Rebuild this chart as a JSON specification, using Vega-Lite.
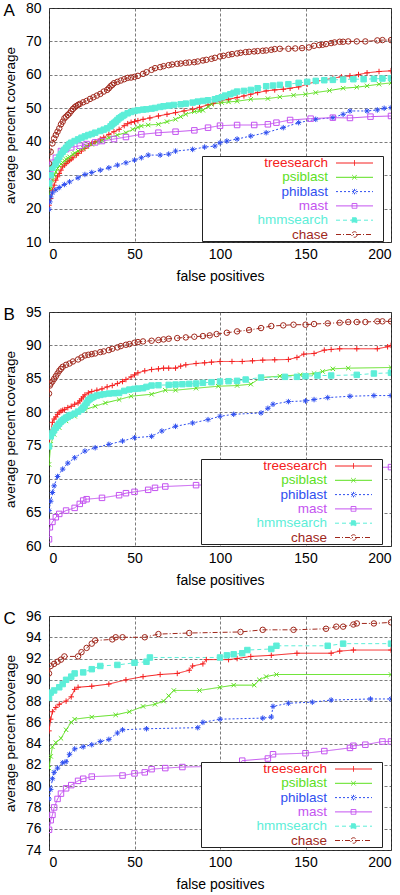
{
"$schema": "https://vega.github.io/schema/vega-lite/v6.json",
"background": "white",
"padding": {"left": 2, "top": 0, "right": 0, "bottom": 0},
"config": {
  "font": "Liberation Sans",
  "view": {"stroke": "#222", "strokeWidth": 1},
  "axis": {"labelFont": "Liberation Sans", "labelFontSize": 14, "labelColor": "black", "titleFont": "Liberation Sans", "titleFontSize": 14, "titleFontWeight": "normal", "titleColor": "black", "ticks": false, "domain": false, "gridColor": "#444", "gridDash": [3, 2], "gridWidth": 0.7, "gridOpacity": 1},
  "axisX": {"labelPadding": 5, "titlePadding": 8},
  "axisY": {"labelPadding": 8, "titlePadding": 8, "titleFontSize": 13.5},
  "title": {"font": "Liberation Sans", "fontSize": 17, "fontWeight": "normal", "anchor": "start", "frame": "bounds", "color": "black", "offset": -19},
  "concat": {"spacing": 20}
},
"datasets": {
"A": [
{"s":"treesearch","x":0,"y":21},{"s":"treesearch","x":1,"y":23},{"s":"treesearch","x":2,"y":25.5},{"s":"treesearch","x":4,"y":28.5},{"s":"treesearch","x":6,"y":30.5},{"s":"treesearch","x":8,"y":32.5},{"s":"treesearch","x":11,"y":34},{"s":"treesearch","x":14,"y":35.2},{"s":"treesearch","x":19,"y":37.2},{"s":"treesearch","x":25,"y":39.5},{"s":"treesearch","x":30,"y":40.8},{"s":"treesearch","x":35,"y":42.2},{"s":"treesearch","x":41,"y":43.7},{"s":"treesearch","x":46,"y":45.4},{"s":"treesearch","x":50,"y":46},{"s":"treesearch","x":55,"y":46.7},{"s":"treesearch","x":64,"y":47.7},{"s":"treesearch","x":74,"y":48.7},{"s":"treesearch","x":84,"y":49.7},{"s":"treesearch","x":93,"y":51},{"s":"treesearch","x":100,"y":52.2},{"s":"treesearch","x":110,"y":53.2},{"s":"treesearch","x":118,"y":54.2},{"s":"treesearch","x":127,"y":55.2},{"s":"treesearch","x":137,"y":55.7},{"s":"treesearch","x":146,"y":56.4},{"s":"treesearch","x":156,"y":58},{"s":"treesearch","x":166,"y":59},{"s":"treesearch","x":176,"y":59.7},{"s":"treesearch","x":186,"y":60.6},{"s":"treesearch","x":200,"y":61.2},
{"s":"treesearch","x":3,"y":27},{"s":"treesearch","x":5,"y":29.5},{"s":"treesearch","x":7,"y":31.5},{"s":"treesearch","x":9,"y":33},{"s":"treesearch","x":10,"y":33.5},{"s":"treesearch","x":12,"y":34.4},{"s":"treesearch","x":13,"y":34.8},{"s":"treesearch","x":16,"y":36},{"s":"treesearch","x":17,"y":36.5},{"s":"treesearch","x":21,"y":38},{"s":"treesearch","x":23,"y":38.8},{"s":"treesearch","x":27,"y":40},{"s":"treesearch","x":32,"y":41.3},{"s":"treesearch","x":38,"y":43},{"s":"treesearch","x":44,"y":44.8},{"s":"treesearch","x":48,"y":45.8},{"s":"treesearch","x":52,"y":46.3},{"s":"treesearch","x":59,"y":47.1},{"s":"treesearch","x":69,"y":48.2},{"s":"treesearch","x":79,"y":49.2},{"s":"treesearch","x":88,"y":50.3},{"s":"treesearch","x":96,"y":51.5},{"s":"treesearch","x":105,"y":52.7},{"s":"treesearch","x":114,"y":53.7},{"s":"treesearch","x":122,"y":54.7},{"s":"treesearch","x":132,"y":55.5},{"s":"treesearch","x":141,"y":56},{"s":"treesearch","x":151,"y":57.2},{"s":"treesearch","x":161,"y":58.5},{"s":"treesearch","x":171,"y":59.4},{"s":"treesearch","x":181,"y":60.1},{"s":"treesearch","x":193,"y":61},
{"s":"psiblast","x":0,"y":23.3},{"s":"psiblast","x":1,"y":26},{"s":"psiblast","x":2,"y":28.5},{"s":"psiblast","x":4,"y":31},{"s":"psiblast","x":6,"y":32.8},{"s":"psiblast","x":9,"y":34.3},{"s":"psiblast","x":12,"y":35.5},{"s":"psiblast","x":17,"y":37.2},{"s":"psiblast","x":25,"y":39.2},{"s":"psiblast","x":35,"y":41.2},{"s":"psiblast","x":45,"y":42.7},{"s":"psiblast","x":49,"y":43.7},{"s":"psiblast","x":54,"y":44.7},{"s":"psiblast","x":64,"y":45.2},{"s":"psiblast","x":74,"y":46.7},{"s":"psiblast","x":80,"y":48.2},{"s":"psiblast","x":85,"y":49},{"s":"psiblast","x":90,"y":49.4},{"s":"psiblast","x":95,"y":51.2},{"s":"psiblast","x":101,"y":51.7},{"s":"psiblast","x":110,"y":52.1},{"s":"psiblast","x":118,"y":52.7},{"s":"psiblast","x":128,"y":52.9},{"s":"psiblast","x":135,"y":53.4},{"s":"psiblast","x":143,"y":53.9},{"s":"psiblast","x":150,"y":54.2},{"s":"psiblast","x":156,"y":54.7},{"s":"psiblast","x":164,"y":55.3},{"s":"psiblast","x":172,"y":56},{"s":"psiblast","x":180,"y":56.3},{"s":"psiblast","x":186,"y":56.7},{"s":"psiblast","x":193,"y":57.2},{"s":"psiblast","x":200,"y":57.6},
{"s":"psiblast","x":3,"y":30},{"s":"psiblast","x":5,"y":32},{"s":"psiblast","x":7,"y":33.3},{"s":"psiblast","x":8,"y":33.8},{"s":"psiblast","x":10,"y":34.7},{"s":"psiblast","x":11,"y":35.1},{"s":"psiblast","x":14,"y":36.2},{"s":"psiblast","x":15,"y":36.6},{"s":"psiblast","x":20,"y":38},{"s":"psiblast","x":22,"y":38.6},{"s":"psiblast","x":28,"y":39.8},{"s":"psiblast","x":31,"y":40.4},{"s":"psiblast","x":40,"y":42},{"s":"psiblast","x":52,"y":44.3},{"s":"psiblast","x":58,"y":45},{"s":"psiblast","x":69,"y":46},{"s":"psiblast","x":77,"y":47.5},{"s":"psiblast","x":88,"y":49.2},{"s":"psiblast","x":93,"y":50.5},{"s":"psiblast","x":105,"y":51.9},
{"s":"phiblast","x":0,"y":19.8},{"s":"phiblast","x":0.5,"y":22},{"s":"phiblast","x":1,"y":23.5},{"s":"phiblast","x":2,"y":24.7},{"s":"phiblast","x":4,"y":25.6},{"s":"phiblast","x":6,"y":26.3},{"s":"phiblast","x":9,"y":27.2},{"s":"phiblast","x":12,"y":28},{"s":"phiblast","x":17,"y":29.2},{"s":"phiblast","x":21,"y":30.2},{"s":"phiblast","x":25,"y":30.8},{"s":"phiblast","x":30,"y":31.5},{"s":"phiblast","x":35,"y":32.2},{"s":"phiblast","x":40,"y":33},{"s":"phiblast","x":45,"y":33.7},{"s":"phiblast","x":50,"y":34.5},{"s":"phiblast","x":54,"y":35.2},{"s":"phiblast","x":58,"y":36},{"s":"phiblast","x":65,"y":36},{"s":"phiblast","x":70,"y":36.3},{"s":"phiblast","x":74,"y":37.2},{"s":"phiblast","x":84,"y":37.7},{"s":"phiblast","x":91,"y":38.4},{"s":"phiblast","x":97,"y":38.7},{"s":"phiblast","x":100,"y":39.7},{"s":"phiblast","x":104,"y":40.2},{"s":"phiblast","x":110,"y":40.8},{"s":"phiblast","x":118,"y":41.7},{"s":"phiblast","x":127,"y":42.7},{"s":"phiblast","x":137,"y":44.2},{"s":"phiblast","x":146,"y":45.7},{"s":"phiblast","x":156,"y":46.7},{"s":"phiblast","x":166,"y":47.2},{"s":"phiblast","x":172,"y":48.2},{"s":"phiblast","x":176,"y":49.2},{"s":"phiblast","x":186,"y":49.2},{"s":"phiblast","x":192,"y":49.5},{"s":"phiblast","x":196,"y":50},{"s":"phiblast","x":200,"y":50.2},
{"s":"mast","x":0,"y":27.7},{"s":"mast","x":0.5,"y":30},{"s":"mast","x":1,"y":32},{"s":"mast","x":2,"y":33.7},{"s":"mast","x":4,"y":35.2},{"s":"mast","x":7,"y":37.2},{"s":"mast","x":10,"y":37.8},{"s":"mast","x":13,"y":38.3},{"s":"mast","x":18,"y":38.8},{"s":"mast","x":22,"y":39.3},{"s":"mast","x":27,"y":39.8},{"s":"mast","x":31,"y":40.2},{"s":"mast","x":38,"y":40.8},{"s":"mast","x":45,"y":41.4},{"s":"mast","x":54,"y":42.2},{"s":"mast","x":64,"y":42.7},{"s":"mast","x":74,"y":43},{"s":"mast","x":85,"y":43.4},{"s":"mast","x":93,"y":44.2},{"s":"mast","x":100,"y":44.8},{"s":"mast","x":110,"y":45},{"s":"mast","x":120,"y":45},{"s":"mast","x":128,"y":45.2},{"s":"mast","x":133,"y":45.7},{"s":"mast","x":141,"y":46.5},{"s":"mast","x":153,"y":46.9},{"s":"mast","x":166,"y":47.2},{"s":"mast","x":176,"y":47.1},{"s":"mast","x":188,"y":47.5},{"s":"mast","x":200,"y":47.7},
{"s":"hmmsearch","x":0,"y":27.5},{"s":"hmmsearch","x":1,"y":30},{"s":"hmmsearch","x":2,"y":32.2},{"s":"hmmsearch","x":4,"y":33.5},{"s":"hmmsearch","x":6,"y":35.5},{"s":"hmmsearch","x":8,"y":37},{"s":"hmmsearch","x":10,"y":38.2},{"s":"hmmsearch","x":13,"y":39.7},{"s":"hmmsearch","x":17,"y":40.7},{"s":"hmmsearch","x":21,"y":41.6},{"s":"hmmsearch","x":25,"y":42.3},{"s":"hmmsearch","x":30,"y":43.2},{"s":"hmmsearch","x":34,"y":44},{"s":"hmmsearch","x":37,"y":45.2},{"s":"hmmsearch","x":40,"y":46.5},{"s":"hmmsearch","x":43,"y":47.7},{"s":"hmmsearch","x":46,"y":48.5},{"s":"hmmsearch","x":50,"y":49.2},{"s":"hmmsearch","x":55,"y":49.6},{"s":"hmmsearch","x":60,"y":49.9},{"s":"hmmsearch","x":65,"y":50.4},{"s":"hmmsearch","x":70,"y":50.8},{"s":"hmmsearch","x":77,"y":51.2},{"s":"hmmsearch","x":84,"y":51.7},{"s":"hmmsearch","x":90,"y":52.2},{"s":"hmmsearch","x":97,"y":52.7},{"s":"hmmsearch","x":101,"y":53.3},{"s":"hmmsearch","x":106,"y":54.2},{"s":"hmmsearch","x":110,"y":55},{"s":"hmmsearch","x":118,"y":55.5},{"s":"hmmsearch","x":127,"y":56.6},{"s":"hmmsearch","x":135,"y":57},{"s":"hmmsearch","x":146,"y":57.6},{"s":"hmmsearch","x":156,"y":58.2},{"s":"hmmsearch","x":166,"y":58.5},{"s":"hmmsearch","x":178,"y":58.7},{"s":"hmmsearch","x":190,"y":58.8},{"s":"hmmsearch","x":200,"y":59},
{"s":"hmmsearch","x":3,"y":33},{"s":"hmmsearch","x":5,"y":34.5},{"s":"hmmsearch","x":7,"y":36.3},{"s":"hmmsearch","x":9,"y":37.6},{"s":"hmmsearch","x":11,"y":38.8},{"s":"hmmsearch","x":12,"y":39.3},{"s":"hmmsearch","x":15,"y":40.2},{"s":"hmmsearch","x":19,"y":41.2},{"s":"hmmsearch","x":23,"y":42},{"s":"hmmsearch","x":27,"y":42.7},{"s":"hmmsearch","x":32,"y":43.6},{"s":"hmmsearch","x":36,"y":44.6},{"s":"hmmsearch","x":38,"y":45.6},{"s":"hmmsearch","x":39,"y":46},{"s":"hmmsearch","x":41,"y":47},{"s":"hmmsearch","x":42,"y":47.3},{"s":"hmmsearch","x":44,"y":48},{"s":"hmmsearch","x":48,"y":48.9},{"s":"hmmsearch","x":52,"y":49.4},{"s":"hmmsearch","x":57,"y":49.7},{"s":"hmmsearch","x":62,"y":50.1},{"s":"hmmsearch","x":67,"y":50.6},{"s":"hmmsearch","x":73,"y":51},{"s":"hmmsearch","x":80,"y":51.4},{"s":"hmmsearch","x":87,"y":52},{"s":"hmmsearch","x":93,"y":52.4},{"s":"hmmsearch","x":99,"y":53},{"s":"hmmsearch","x":103,"y":53.8},{"s":"hmmsearch","x":108,"y":54.6},{"s":"hmmsearch","x":114,"y":55.2},{"s":"hmmsearch","x":122,"y":56},{"s":"hmmsearch","x":131,"y":56.8},{"s":"hmmsearch","x":140,"y":57.2},{"s":"hmmsearch","x":151,"y":57.9},{"s":"hmmsearch","x":161,"y":58.4},{"s":"hmmsearch","x":172,"y":58.6},{"s":"hmmsearch","x":184,"y":58.7},{"s":"hmmsearch","x":195,"y":58.9},
{"s":"chase","x":0,"y":33.5},{"s":"chase","x":1,"y":37},{"s":"chase","x":2,"y":39.5},{"s":"chase","x":4,"y":42},{"s":"chase","x":6,"y":44},{"s":"chase","x":9,"y":47},{"s":"chase","x":12,"y":48.5},{"s":"chase","x":15,"y":50.3},{"s":"chase","x":18,"y":51.3},{"s":"chase","x":22,"y":52.2},{"s":"chase","x":26,"y":53.3},{"s":"chase","x":30,"y":54.3},{"s":"chase","x":35,"y":56},{"s":"chase","x":38,"y":57.5},{"s":"chase","x":42,"y":58.3},{"s":"chase","x":46,"y":59.1},{"s":"chase","x":50,"y":59.4},{"s":"chase","x":55,"y":60.3},{"s":"chase","x":60,"y":61.5},{"s":"chase","x":65,"y":62.3},{"s":"chase","x":70,"y":62.9},{"s":"chase","x":75,"y":63.3},{"s":"chase","x":80,"y":63.6},{"s":"chase","x":85,"y":63.8},{"s":"chase","x":90,"y":64.3},{"s":"chase","x":95,"y":64.8},{"s":"chase","x":100,"y":65.5},{"s":"chase","x":105,"y":66},{"s":"chase","x":110,"y":66.4},{"s":"chase","x":115,"y":66.8},{"s":"chase","x":120,"y":67},{"s":"chase","x":125,"y":67.2},{"s":"chase","x":130,"y":67.5},{"s":"chase","x":135,"y":67.8},{"s":"chase","x":140,"y":67.8},{"s":"chase","x":148,"y":68},{"s":"chase","x":152,"y":68.2},{"s":"chase","x":155,"y":68.7},{"s":"chase","x":160,"y":69},{"s":"chase","x":165,"y":69.5},{"s":"chase","x":170,"y":69.9},{"s":"chase","x":175,"y":70},{"s":"chase","x":185,"y":70},{"s":"chase","x":192,"y":70.3},{"s":"chase","x":200,"y":70.4},
{"s":"chase","x":3,"y":41},{"s":"chase","x":5,"y":43},{"s":"chase","x":7,"y":45.2},{"s":"chase","x":8,"y":46},{"s":"chase","x":10,"y":47.5},{"s":"chase","x":11,"y":48},{"s":"chase","x":13,"y":49.2},{"s":"chase","x":14,"y":49.8},{"s":"chase","x":16,"y":50.7},{"s":"chase","x":17,"y":51},{"s":"chase","x":20,"y":51.8},{"s":"chase","x":24,"y":52.8},{"s":"chase","x":28,"y":53.8},{"s":"chase","x":32,"y":55},{"s":"chase","x":34,"y":55.5},{"s":"chase","x":36,"y":56.6},{"s":"chase","x":37,"y":57},{"s":"chase","x":40,"y":57.9},{"s":"chase","x":44,"y":58.7},{"s":"chase","x":48,"y":59.2},{"s":"chase","x":52,"y":59.7},{"s":"chase","x":57,"y":60.8},{"s":"chase","x":62,"y":62},{"s":"chase","x":67,"y":62.6},{"s":"chase","x":72,"y":63.1},{"s":"chase","x":77,"y":63.4},{"s":"chase","x":82,"y":63.7},{"s":"chase","x":87,"y":64},{"s":"chase","x":92,"y":64.5},{"s":"chase","x":97,"y":65.1},{"s":"chase","x":102,"y":65.7},{"s":"chase","x":107,"y":66.2},{"s":"chase","x":112,"y":66.6},{"s":"chase","x":117,"y":66.9},{"s":"chase","x":122,"y":67.1},{"s":"chase","x":127,"y":67.3},{"s":"chase","x":132,"y":67.7},{"s":"chase","x":144,"y":67.9},{"s":"chase","x":158,"y":68.9},{"s":"chase","x":162,"y":69.2},{"s":"chase","x":167,"y":69.7},{"s":"chase","x":172,"y":69.9},{"s":"chase","x":180,"y":70},{"s":"chase","x":195,"y":70.4}
],
"B": [
{"s":"treesearch","x":0,"y":75},{"s":"treesearch","x":1,"y":77},{"s":"treesearch","x":2,"y":78.5},{"s":"treesearch","x":4,"y":79.3},{"s":"treesearch","x":6,"y":80},{"s":"treesearch","x":9,"y":80.4},{"s":"treesearch","x":13,"y":80.9},{"s":"treesearch","x":17,"y":81.4},{"s":"treesearch","x":19,"y":82},{"s":"treesearch","x":21,"y":82.6},{"s":"treesearch","x":25,"y":83.1},{"s":"treesearch","x":31,"y":83.5},{"s":"treesearch","x":37,"y":84},{"s":"treesearch","x":43,"y":84.6},{"s":"treesearch","x":48,"y":85.3},{"s":"treesearch","x":52,"y":85.9},{"s":"treesearch","x":60,"y":86.4},{"s":"treesearch","x":67,"y":86.6},{"s":"treesearch","x":74,"y":86.6},{"s":"treesearch","x":80,"y":87.1},{"s":"treesearch","x":91,"y":87.4},{"s":"treesearch","x":100,"y":87.6},{"s":"treesearch","x":113,"y":87.6},{"s":"treesearch","x":125,"y":87.8},{"s":"treesearch","x":140,"y":87.9},{"s":"treesearch","x":145,"y":88.2},{"s":"treesearch","x":149,"y":88.7},{"s":"treesearch","x":155,"y":88.8},{"s":"treesearch","x":161,"y":89.3},{"s":"treesearch","x":170,"y":89.5},{"s":"treesearch","x":192,"y":89.5},{"s":"treesearch","x":198,"y":89.8},{"s":"treesearch","x":200,"y":90},
{"s":"treesearch","x":3,"y":79},{"s":"treesearch","x":5,"y":79.7},{"s":"treesearch","x":7,"y":80.2},{"s":"treesearch","x":8,"y":80.3},{"s":"treesearch","x":11,"y":80.7},{"s":"treesearch","x":15,"y":81.2},{"s":"treesearch","x":18,"y":81.7},{"s":"treesearch","x":20,"y":82.3},{"s":"treesearch","x":23,"y":82.9},{"s":"treesearch","x":28,"y":83.3},{"s":"treesearch","x":34,"y":83.8},{"s":"treesearch","x":40,"y":84.3},{"s":"treesearch","x":45,"y":84.9},{"s":"treesearch","x":50,"y":85.6},{"s":"treesearch","x":56,"y":86.2},{"s":"treesearch","x":64,"y":86.5},{"s":"treesearch","x":70,"y":86.6},{"s":"treesearch","x":77,"y":86.9},{"s":"treesearch","x":86,"y":87.3},{"s":"treesearch","x":95,"y":87.5},{"s":"treesearch","x":107,"y":87.6},{"s":"treesearch","x":119,"y":87.7},{"s":"treesearch","x":132,"y":87.85},{"s":"treesearch","x":165,"y":89.4},{"s":"treesearch","x":180,"y":89.5},
{"s":"psiblast","x":0,"y":72.2},{"s":"psiblast","x":1,"y":75.2},{"s":"psiblast","x":3,"y":76.7},{"s":"psiblast","x":6,"y":77.7},{"s":"psiblast","x":10,"y":78.7},{"s":"psiblast","x":15,"y":79.4},{"s":"psiblast","x":21,"y":80.4},{"s":"psiblast","x":27,"y":80.9},{"s":"psiblast","x":33,"y":81.4},{"s":"psiblast","x":41,"y":81.9},{"s":"psiblast","x":48,"y":82.4},{"s":"psiblast","x":60,"y":82.7},{"s":"psiblast","x":68,"y":83.3},{"s":"psiblast","x":74,"y":83.3},{"s":"psiblast","x":86,"y":83.6},{"s":"psiblast","x":99,"y":83.9},{"s":"psiblast","x":110,"y":84},{"s":"psiblast","x":118,"y":84.2},{"s":"psiblast","x":124,"y":85.2},{"s":"psiblast","x":135,"y":85.4},{"s":"psiblast","x":147,"y":85.6},{"s":"psiblast","x":155,"y":85.8},{"s":"psiblast","x":160,"y":86.1},{"s":"psiblast","x":166,"y":86.5},{"s":"psiblast","x":175,"y":86.6},{"s":"psiblast","x":200,"y":86.7},
{"s":"phiblast","x":0,"y":65.3},{"s":"phiblast","x":1,"y":66.7},{"s":"phiblast","x":2,"y":68},{"s":"phiblast","x":3,"y":69},{"s":"phiblast","x":5,"y":70.4},{"s":"phiblast","x":8,"y":71.5},{"s":"phiblast","x":11,"y":72.4},{"s":"phiblast","x":15,"y":73.2},{"s":"phiblast","x":21,"y":74.2},{"s":"phiblast","x":27,"y":74.7},{"s":"phiblast","x":35,"y":75.2},{"s":"phiblast","x":43,"y":75.7},{"s":"phiblast","x":50,"y":76.2},{"s":"phiblast","x":60,"y":76.4},{"s":"phiblast","x":66,"y":77.2},{"s":"phiblast","x":74,"y":77.9},{"s":"phiblast","x":84,"y":78.4},{"s":"phiblast","x":93,"y":78.9},{"s":"phiblast","x":100,"y":79.4},{"s":"phiblast","x":108,"y":79.7},{"s":"phiblast","x":124,"y":79.9},{"s":"phiblast","x":128,"y":80.6},{"s":"phiblast","x":131,"y":81.2},{"s":"phiblast","x":140,"y":81.6},{"s":"phiblast","x":150,"y":81.7},{"s":"phiblast","x":155,"y":81.9},{"s":"phiblast","x":163,"y":82.2},{"s":"phiblast","x":176,"y":82.4},{"s":"phiblast","x":190,"y":82.5},{"s":"phiblast","x":200,"y":82.5},
{"s":"mast","x":0,"y":61},{"s":"mast","x":0.5,"y":62.8},{"s":"mast","x":2,"y":63.6},{"s":"mast","x":4,"y":64.3},{"s":"mast","x":6,"y":64.8},{"s":"mast","x":10,"y":65.3},{"s":"mast","x":15,"y":65.7},{"s":"mast","x":18,"y":66.3},{"s":"mast","x":20,"y":66.8},{"s":"mast","x":22,"y":67},{"s":"mast","x":31,"y":67.2},{"s":"mast","x":41,"y":67.6},{"s":"mast","x":45,"y":67.9},{"s":"mast","x":50,"y":68.1},{"s":"mast","x":58,"y":68.4},{"s":"mast","x":62,"y":68.7},{"s":"mast","x":68,"y":68.9},{"s":"mast","x":86,"y":69.1},{"s":"mast","x":100,"y":69.2},{"s":"mast","x":108,"y":69.3},{"s":"mast","x":112,"y":69.7},{"s":"mast","x":122,"y":70},{"s":"mast","x":128,"y":70.3},{"s":"mast","x":133,"y":70.6},{"s":"mast","x":138,"y":70.8},{"s":"mast","x":150,"y":71},{"s":"mast","x":160,"y":71},{"s":"mast","x":165,"y":71.1},{"s":"mast","x":172,"y":71.3},{"s":"mast","x":177,"y":71.5},{"s":"mast","x":185,"y":71.7},{"s":"mast","x":200,"y":71.8},
{"s":"hmmsearch","x":0,"y":74.9},{"s":"hmmsearch","x":1,"y":76.4},{"s":"hmmsearch","x":3,"y":77.3},{"s":"hmmsearch","x":5,"y":78},{"s":"hmmsearch","x":8,"y":78.8},{"s":"hmmsearch","x":11,"y":79.3},{"s":"hmmsearch","x":15,"y":79.8},{"s":"hmmsearch","x":19,"y":80.4},{"s":"hmmsearch","x":21,"y":81},{"s":"hmmsearch","x":23,"y":81.8},{"s":"hmmsearch","x":26,"y":82.3},{"s":"hmmsearch","x":30,"y":82.6},{"s":"hmmsearch","x":35,"y":82.8},{"s":"hmmsearch","x":41,"y":82.9},{"s":"hmmsearch","x":47,"y":83.4},{"s":"hmmsearch","x":55,"y":83.6},{"s":"hmmsearch","x":60,"y":84},{"s":"hmmsearch","x":70,"y":84.1},{"s":"hmmsearch","x":78,"y":84.2},{"s":"hmmsearch","x":86,"y":84.3},{"s":"hmmsearch","x":95,"y":84.5},{"s":"hmmsearch","x":100,"y":84.6},{"s":"hmmsearch","x":110,"y":84.7},{"s":"hmmsearch","x":115,"y":84.9},{"s":"hmmsearch","x":124,"y":85.2},{"s":"hmmsearch","x":138,"y":85.3},{"s":"hmmsearch","x":145,"y":85.3},{"s":"hmmsearch","x":150,"y":85.4},{"s":"hmmsearch","x":157,"y":85.5},{"s":"hmmsearch","x":165,"y":85.5},{"s":"hmmsearch","x":180,"y":85.6},{"s":"hmmsearch","x":190,"y":85.8},{"s":"hmmsearch","x":200,"y":85.9},
{"s":"hmmsearch","x":2,"y":76.9},{"s":"hmmsearch","x":4,"y":77.7},{"s":"hmmsearch","x":6,"y":78.3},{"s":"hmmsearch","x":7,"y":78.6},{"s":"hmmsearch","x":9,"y":79},{"s":"hmmsearch","x":10,"y":79.2},{"s":"hmmsearch","x":12,"y":79.5},{"s":"hmmsearch","x":13,"y":79.6},{"s":"hmmsearch","x":17,"y":80.1},{"s":"hmmsearch","x":20,"y":80.7},{"s":"hmmsearch","x":22,"y":81.4},{"s":"hmmsearch","x":24,"y":82},{"s":"hmmsearch","x":25,"y":82.2},{"s":"hmmsearch","x":28,"y":82.5},{"s":"hmmsearch","x":32,"y":82.7},{"s":"hmmsearch","x":38,"y":82.85},{"s":"hmmsearch","x":44,"y":83.2},{"s":"hmmsearch","x":50,"y":83.5},{"s":"hmmsearch","x":52,"y":83.55},{"s":"hmmsearch","x":57,"y":83.8},{"s":"hmmsearch","x":64,"y":84.05},{"s":"hmmsearch","x":74,"y":84.15},{"s":"hmmsearch","x":82,"y":84.25},{"s":"hmmsearch","x":90,"y":84.4},{"s":"hmmsearch","x":105,"y":84.65},
{"s":"chase","x":0,"y":82.8},{"s":"chase","x":0.5,"y":84},{"s":"chase","x":2,"y":84.6},{"s":"chase","x":4,"y":85.4},{"s":"chase","x":6,"y":86.2},{"s":"chase","x":8,"y":86.8},{"s":"chase","x":12,"y":87.3},{"s":"chase","x":17,"y":87.9},{"s":"chase","x":21,"y":88.5},{"s":"chase","x":25,"y":88.7},{"s":"chase","x":30,"y":89},{"s":"chase","x":35,"y":89.3},{"s":"chase","x":40,"y":89.7},{"s":"chase","x":45,"y":90.1},{"s":"chase","x":50,"y":90.4},{"s":"chase","x":55,"y":90.6},{"s":"chase","x":64,"y":90.8},{"s":"chase","x":70,"y":91},{"s":"chase","x":80,"y":91.2},{"s":"chase","x":90,"y":91.4},{"s":"chase","x":98,"y":91.7},{"s":"chase","x":110,"y":92.1},{"s":"chase","x":124,"y":92.6},{"s":"chase","x":130,"y":92.9},{"s":"chase","x":143,"y":93.1},{"s":"chase","x":155,"y":93.2},{"s":"chase","x":163,"y":93.3},{"s":"chase","x":175,"y":93.5},{"s":"chase","x":185,"y":93.5},{"s":"chase","x":192,"y":93.6},{"s":"chase","x":200,"y":93.6},
{"s":"chase","x":1,"y":84.3},{"s":"chase","x":3,"y":85},{"s":"chase","x":5,"y":85.8},{"s":"chase","x":7,"y":86.5},{"s":"chase","x":10,"y":87.1},{"s":"chase","x":14,"y":87.6},{"s":"chase","x":19,"y":88.2},{"s":"chase","x":23,"y":88.6},{"s":"chase","x":27,"y":88.8},{"s":"chase","x":32,"y":89.1},{"s":"chase","x":37,"y":89.5},{"s":"chase","x":42,"y":89.9},{"s":"chase","x":47,"y":90.2},{"s":"chase","x":52,"y":90.5},{"s":"chase","x":60,"y":90.7},{"s":"chase","x":67,"y":90.9},{"s":"chase","x":75,"y":91.1},{"s":"chase","x":85,"y":91.3},{"s":"chase","x":94,"y":91.5},{"s":"chase","x":104,"y":91.9},{"s":"chase","x":117,"y":92.3},{"s":"chase","x":137,"y":93},{"s":"chase","x":150,"y":93.1},{"s":"chase","x":170,"y":93.4},{"s":"chase","x":180,"y":93.5},{"s":"chase","x":195,"y":93.6}
],
"C": [
{"s":"treesearch","x":0,"y":85.2},{"s":"treesearch","x":1,"y":86.3},{"s":"treesearch","x":2,"y":87},{"s":"treesearch","x":4,"y":87.4},{"s":"treesearch","x":6,"y":87.7},{"s":"treesearch","x":10,"y":88},{"s":"treesearch","x":13,"y":88.4},{"s":"treesearch","x":15,"y":89.1},{"s":"treesearch","x":17,"y":89.3},{"s":"treesearch","x":25,"y":89.4},{"s":"treesearch","x":35,"y":89.6},{"s":"treesearch","x":45,"y":90},{"s":"treesearch","x":55,"y":90.3},{"s":"treesearch","x":65,"y":90.5},{"s":"treesearch","x":75,"y":90.6},{"s":"treesearch","x":82,"y":90.9},{"s":"treesearch","x":84,"y":91.3},{"s":"treesearch","x":90,"y":91.5},{"s":"treesearch","x":92,"y":91.9},{"s":"treesearch","x":105,"y":91.9},{"s":"treesearch","x":110,"y":92},{"s":"treesearch","x":118,"y":92.2},{"s":"treesearch","x":130,"y":92.3},{"s":"treesearch","x":145,"y":92.5},{"s":"treesearch","x":165,"y":92.5},{"s":"treesearch","x":170,"y":92.7},{"s":"treesearch","x":178,"y":92.8},{"s":"treesearch","x":200,"y":92.8},
{"s":"psiblast","x":0,"y":81.7},{"s":"psiblast","x":1,"y":82.8},{"s":"psiblast","x":2,"y":83.7},{"s":"psiblast","x":4,"y":84.1},{"s":"psiblast","x":7,"y":84.5},{"s":"psiblast","x":10,"y":85.3},{"s":"psiblast","x":13,"y":86},{"s":"psiblast","x":15,"y":86.3},{"s":"psiblast","x":25,"y":86.5},{"s":"psiblast","x":39,"y":86.7},{"s":"psiblast","x":47,"y":87},{"s":"psiblast","x":55,"y":87.5},{"s":"psiblast","x":62,"y":87.7},{"s":"psiblast","x":67,"y":88},{"s":"psiblast","x":70,"y":88.5},{"s":"psiblast","x":73,"y":89},{"s":"psiblast","x":88,"y":89},{"s":"psiblast","x":100,"y":89.3},{"s":"psiblast","x":108,"y":89.5},{"s":"psiblast","x":120,"y":89.5},{"s":"psiblast","x":123,"y":90},{"s":"psiblast","x":127,"y":90.3},{"s":"psiblast","x":133,"y":90.5},{"s":"psiblast","x":200,"y":90.5},
{"s":"phiblast","x":0,"y":78.8},{"s":"phiblast","x":1,"y":79.7},{"s":"phiblast","x":2,"y":80.7},{"s":"phiblast","x":3,"y":81.3},{"s":"phiblast","x":5,"y":81.7},{"s":"phiblast","x":8,"y":82.2},{"s":"phiblast","x":10,"y":82.3},{"s":"phiblast","x":12,"y":83},{"s":"phiblast","x":15,"y":83.5},{"s":"phiblast","x":20,"y":83.7},{"s":"phiblast","x":25,"y":83.9},{"s":"phiblast","x":30,"y":84.2},{"s":"phiblast","x":35,"y":84.4},{"s":"phiblast","x":40,"y":85},{"s":"phiblast","x":43,"y":85.3},{"s":"phiblast","x":57,"y":85.4},{"s":"phiblast","x":87,"y":85.5},{"s":"phiblast","x":90,"y":86},{"s":"phiblast","x":100,"y":86.3},{"s":"phiblast","x":125,"y":86.4},{"s":"phiblast","x":130,"y":86.5},{"s":"phiblast","x":131,"y":87.5},{"s":"phiblast","x":140,"y":87.8},{"s":"phiblast","x":154,"y":87.9},{"s":"phiblast","x":165,"y":88.1},{"s":"phiblast","x":188,"y":88.2},{"s":"phiblast","x":200,"y":88.2},
{"s":"mast","x":0,"y":75.9},{"s":"mast","x":1,"y":76.8},{"s":"mast","x":2,"y":77.3},{"s":"mast","x":3,"y":78},{"s":"mast","x":5,"y":78.8},{"s":"mast","x":7,"y":79.3},{"s":"mast","x":10,"y":79.8},{"s":"mast","x":13,"y":80.1},{"s":"mast","x":17,"y":80.5},{"s":"mast","x":20,"y":80.7},{"s":"mast","x":25,"y":80.9},{"s":"mast","x":43,"y":81},{"s":"mast","x":50,"y":81.2},{"s":"mast","x":56,"y":81.3},{"s":"mast","x":60,"y":81.6},{"s":"mast","x":68,"y":81.7},{"s":"mast","x":78,"y":81.8},{"s":"mast","x":110,"y":81.9},{"s":"mast","x":113,"y":82.4},{"s":"mast","x":128,"y":82.6},{"s":"mast","x":131,"y":83},{"s":"mast","x":150,"y":83.1},{"s":"mast","x":161,"y":83.3},{"s":"mast","x":176,"y":83.6},{"s":"mast","x":178,"y":83.8},{"s":"mast","x":185,"y":83.9},{"s":"mast","x":195,"y":84.2},{"s":"mast","x":200,"y":84.2},
{"s":"hmmsearch","x":0,"y":88.3},{"s":"hmmsearch","x":1,"y":88.8},{"s":"hmmsearch","x":3,"y":89},{"s":"hmmsearch","x":6,"y":89.3},{"s":"hmmsearch","x":8,"y":89.6},{"s":"hmmsearch","x":10,"y":90},{"s":"hmmsearch","x":13,"y":90.3},{"s":"hmmsearch","x":15,"y":90.6},{"s":"hmmsearch","x":20,"y":90.7},{"s":"hmmsearch","x":25,"y":91},{"s":"hmmsearch","x":30,"y":91.3},{"s":"hmmsearch","x":40,"y":91.4},{"s":"hmmsearch","x":50,"y":91.6},{"s":"hmmsearch","x":57,"y":91.7},{"s":"hmmsearch","x":59,"y":92.1},{"s":"hmmsearch","x":100,"y":92.1},{"s":"hmmsearch","x":104,"y":92.3},{"s":"hmmsearch","x":108,"y":92.4},{"s":"hmmsearch","x":113,"y":92.5},{"s":"hmmsearch","x":116,"y":92.8},{"s":"hmmsearch","x":130,"y":92.9},{"s":"hmmsearch","x":133,"y":93.2},{"s":"hmmsearch","x":163,"y":93.2},{"s":"hmmsearch","x":172,"y":93.4},{"s":"hmmsearch","x":200,"y":93.4},
{"s":"chase","x":0,"y":90.6},{"s":"chase","x":1,"y":91.3},{"s":"chase","x":3,"y":91.5},{"s":"chase","x":5,"y":91.7},{"s":"chase","x":7,"y":91.9},{"s":"chase","x":9,"y":92.2},{"s":"chase","x":17,"y":92.2},{"s":"chase","x":19,"y":92.6},{"s":"chase","x":22,"y":93},{"s":"chase","x":25,"y":93.4},{"s":"chase","x":27,"y":93.7},{"s":"chase","x":37,"y":93.8},{"s":"chase","x":39,"y":94},{"s":"chase","x":43,"y":94},{"s":"chase","x":56,"y":94},{"s":"chase","x":64,"y":94.3},{"s":"chase","x":82,"y":94.4},{"s":"chase","x":112,"y":94.5},{"s":"chase","x":125,"y":94.7},{"s":"chase","x":143,"y":94.7},{"s":"chase","x":162,"y":94.8},{"s":"chase","x":168,"y":95},{"s":"chase","x":172,"y":95},{"s":"chase","x":178,"y":95.2},{"s":"chase","x":180,"y":95.3},{"s":"chase","x":190,"y":95.3},{"s":"chase","x":200,"y":95.4}
]
},
"resolve": {"legend": {"color": "independent"}},
"vconcat": [
{
 "title": {"text": "A"},
 "width": 342, "height": 234,
 "data": {"name": "A"},
 "encoding": {
  "x": {"field": "x", "type": "quantitative", "scale": {"domain": [0, 200], "nice": false}, "axis": {"values": [0, 50, 100, 150, 200], "title": "false positives"}},
  "y": {"field": "y", "type": "quantitative", "scale": {"domain": [10, 80], "nice": false, "zero": false}, "axis": {"values": [10, 20, 30, 40, 50, 60, 70, 80], "title": "average percent coverage"}},
  "color": {"field": "s", "type": "nominal", "scale": {"domain": ["treesearch", "psiblast", "phiblast", "mast", "hmmsearch", "chase"], "range": ["#f52020", "#5ce01e", "#2f4ff0", "#c453f0", "#5ceed8", "#a0281c"]},
   "legend": {"orient": "none", "legendX": 153, "legendY": 148, "title": null, "padding": 0, "rowPadding": 0.3, "fillColor": "white", "strokeColor": "#222", "labelFontSize": 13.5, "labelFont": "Liberation Sans", "labelLimit": 0, "symbolSize": 100, "symbolStrokeWidth": 1,
    "encode": {
     "symbols": {"update": {"x": {"value": 152.5}, "y": {"value": 7}, "size": {"value": 1369}, "strokeWidth": {"value": 1}, "opacity": {"value": 1},
       "stroke": {"signal": "datum.value === 'treesearch' ? '#f52020' : datum.value === 'psiblast' ? '#5ce01e' : datum.value === 'phiblast' ? '#2f4ff0' : datum.value === 'mast' ? '#c453f0' : datum.value === 'hmmsearch' ? '#5ceed8' : '#a0281c'"},
       "shape": {"signal": "datum.value === 'treesearch' ? 'M-1,0L1,0M0,-0.15L0,0.15M1.43,0' : datum.value === 'psiblast' ? 'M-1,0L1,0M-0.12,-0.12L0.12,0.12M-0.12,0.12L0.12,-0.12M1.43,0' : datum.value === 'phiblast' ? 'M-1,0L1,0M0,-0.15L0,0.15M-0.11,-0.11L0.11,0.11M-0.11,0.11L0.11,-0.11M1.43,0' : datum.value === 'chase' ? 'M-1,0L1,0M0.15,0A0.15,0.15,0,1,1,-0.15,0A0.15,0.15,0,1,1,0.15,0M1.43,0' : 'M-1,0L1,0M-0.13,-0.13L0.13,-0.13L0.13,0.13L-0.13,0.13ZM1.43,0'"},
       "fill": {"signal": "datum.value === 'hmmsearch' ? '#5ceed8' : 'transparent'"},
       "strokeDash": {"signal": "datum.value === 'phiblast' ? [2,2] : datum.value === 'hmmsearch' ? [4,3] : datum.value === 'chase' ? [5,2,1,2] : [1,0]"}}},
     "labels": {"update": {"x": {"value": 126}, "y": {"value": 7}, "align": {"value": "right"}, "baseline": {"value": "middle"},
       "fill": {"signal": "datum.value === 'treesearch' ? '#f52020' : datum.value === 'psiblast' ? '#5ce01e' : datum.value === 'phiblast' ? '#2f4ff0' : datum.value === 'mast' ? '#c453f0' : datum.value === 'hmmsearch' ? '#5ceed8' : '#a0281c'"}}}
    }}}
 },
 "layer": [
  {"mark": {"type": "line", "strokeWidth": 1, "clip": true}, "encoding": {"strokeDash": {"field": "s", "type": "nominal", "scale": {"domain": ["treesearch", "psiblast", "phiblast", "mast", "hmmsearch", "chase"], "range": [[1, 0], [1, 0], [2, 2], [1, 0], [4, 3], [5, 2, 1, 2]]}, "legend": null}}},
  {"mark": {"type": "point", "filled": false, "size": 30, "strokeWidth": 1, "opacity": 1, "clip": true}, "encoding": {
    "shape": {"field": "s", "type": "nominal", "scale": {"domain": ["treesearch", "psiblast", "phiblast", "mast", "hmmsearch", "chase"], "range": ["M-1,0L1,0M0,-1L0,1", "M-0.8,-0.8L0.8,0.8M-0.8,0.8L0.8,-0.8", "M-1,0L1,0M0,-1L0,1M-0.7,-0.7L0.7,0.7M-0.7,0.7L0.7,-0.7", "square", "square", "circle"]}, "legend": null},
    "fill": {"field": "s", "type": "nominal", "scale": {"domain": ["treesearch", "psiblast", "phiblast", "mast", "hmmsearch", "chase"], "range": ["transparent", "transparent", "transparent", "transparent", "#5ceed8", "transparent"]}, "legend": null}}}
 ]
},
{
 "title": {"text": "B"},
 "width": 342, "height": 234,
 "data": {"name": "B"},
 "encoding": {
  "x": {"field": "x", "type": "quantitative", "scale": {"domain": [0, 200], "nice": false}, "axis": {"values": [0, 50, 100, 150, 200], "title": "false positives"}},
  "y": {"field": "y", "type": "quantitative", "scale": {"domain": [60, 95], "nice": false, "zero": false}, "axis": {"values": [60, 65, 70, 75, 80, 85, 90, 95], "title": "average percent coverage"}},
  "color": {"field": "s", "type": "nominal", "scale": {"domain": ["treesearch", "psiblast", "phiblast", "mast", "hmmsearch", "chase"], "range": ["#f52020", "#5ce01e", "#2f4ff0", "#c453f0", "#5ceed8", "#a0281c"]},
   "legend": {"orient": "none", "legendX": 152, "legendY": 147, "title": null, "padding": 0, "rowPadding": 0.3, "fillColor": "white", "strokeColor": "#222", "labelFontSize": 13.5, "labelFont": "Liberation Sans", "labelLimit": 0, "symbolSize": 100, "symbolStrokeWidth": 1,
    "encode": {
     "symbols": {"update": {"x": {"value": 152.5}, "y": {"value": 7}, "size": {"value": 1369}, "strokeWidth": {"value": 1}, "opacity": {"value": 1},
       "stroke": {"signal": "datum.value === 'treesearch' ? '#f52020' : datum.value === 'psiblast' ? '#5ce01e' : datum.value === 'phiblast' ? '#2f4ff0' : datum.value === 'mast' ? '#c453f0' : datum.value === 'hmmsearch' ? '#5ceed8' : '#a0281c'"},
       "shape": {"signal": "datum.value === 'treesearch' ? 'M-1,0L1,0M0,-0.15L0,0.15M1.43,0' : datum.value === 'psiblast' ? 'M-1,0L1,0M-0.12,-0.12L0.12,0.12M-0.12,0.12L0.12,-0.12M1.43,0' : datum.value === 'phiblast' ? 'M-1,0L1,0M0,-0.15L0,0.15M-0.11,-0.11L0.11,0.11M-0.11,0.11L0.11,-0.11M1.43,0' : datum.value === 'chase' ? 'M-1,0L1,0M0.15,0A0.15,0.15,0,1,1,-0.15,0A0.15,0.15,0,1,1,0.15,0M1.43,0' : 'M-1,0L1,0M-0.13,-0.13L0.13,-0.13L0.13,0.13L-0.13,0.13ZM1.43,0'"},
       "fill": {"signal": "datum.value === 'hmmsearch' ? '#5ceed8' : 'transparent'"},
       "strokeDash": {"signal": "datum.value === 'phiblast' ? [2,2] : datum.value === 'hmmsearch' ? [4,3] : datum.value === 'chase' ? [5,2,1,2] : [1,0]"}}},
     "labels": {"update": {"x": {"value": 126}, "y": {"value": 7}, "align": {"value": "right"}, "baseline": {"value": "middle"},
       "fill": {"signal": "datum.value === 'treesearch' ? '#f52020' : datum.value === 'psiblast' ? '#5ce01e' : datum.value === 'phiblast' ? '#2f4ff0' : datum.value === 'mast' ? '#c453f0' : datum.value === 'hmmsearch' ? '#5ceed8' : '#a0281c'"}}}
    }}}
 },
 "layer": [
  {"mark": {"type": "line", "strokeWidth": 1, "clip": true}, "encoding": {"strokeDash": {"field": "s", "type": "nominal", "scale": {"domain": ["treesearch", "psiblast", "phiblast", "mast", "hmmsearch", "chase"], "range": [[1, 0], [1, 0], [2, 2], [1, 0], [4, 3], [5, 2, 1, 2]]}, "legend": null}}},
  {"mark": {"type": "point", "filled": false, "size": 30, "strokeWidth": 1, "opacity": 1, "clip": true}, "encoding": {
    "shape": {"field": "s", "type": "nominal", "scale": {"domain": ["treesearch", "psiblast", "phiblast", "mast", "hmmsearch", "chase"], "range": ["M-1,0L1,0M0,-1L0,1", "M-0.8,-0.8L0.8,0.8M-0.8,0.8L0.8,-0.8", "M-1,0L1,0M0,-1L0,1M-0.7,-0.7L0.7,0.7M-0.7,0.7L0.7,-0.7", "square", "square", "circle"]}, "legend": null},
    "fill": {"field": "s", "type": "nominal", "scale": {"domain": ["treesearch", "psiblast", "phiblast", "mast", "hmmsearch", "chase"], "range": ["transparent", "transparent", "transparent", "transparent", "#5ceed8", "transparent"]}, "legend": null}}}
 ]
},
{
 "title": {"text": "C"},
 "width": 342, "height": 234,
 "data": {"name": "C"},
 "encoding": {
  "x": {"field": "x", "type": "quantitative", "scale": {"domain": [0, 200], "nice": false}, "axis": {"values": [0, 50, 100, 150, 200], "title": "false positives"}},
  "y": {"field": "y", "type": "quantitative", "scale": {"domain": [74, 96], "nice": false, "zero": false}, "axis": {"values": [74, 76, 78, 80, 82, 84, 86, 88, 90, 92, 94, 96], "title": "average percent coverage"}},
  "color": {"field": "s", "type": "nominal", "scale": {"domain": ["treesearch", "psiblast", "phiblast", "mast", "hmmsearch", "chase"], "range": ["#f52020", "#5ce01e", "#2f4ff0", "#c453f0", "#5ceed8", "#a0281c"]},
   "legend": {"orient": "none", "legendX": 152, "legendY": 146, "title": null, "padding": 0, "rowPadding": 0.3, "fillColor": "white", "strokeColor": "#222", "labelFontSize": 13.5, "labelFont": "Liberation Sans", "labelLimit": 0, "symbolSize": 100, "symbolStrokeWidth": 1,
    "encode": {
     "symbols": {"update": {"x": {"value": 152.5}, "y": {"value": 7}, "size": {"value": 1369}, "strokeWidth": {"value": 1}, "opacity": {"value": 1},
       "stroke": {"signal": "datum.value === 'treesearch' ? '#f52020' : datum.value === 'psiblast' ? '#5ce01e' : datum.value === 'phiblast' ? '#2f4ff0' : datum.value === 'mast' ? '#c453f0' : datum.value === 'hmmsearch' ? '#5ceed8' : '#a0281c'"},
       "shape": {"signal": "datum.value === 'treesearch' ? 'M-1,0L1,0M0,-0.15L0,0.15M1.43,0' : datum.value === 'psiblast' ? 'M-1,0L1,0M-0.12,-0.12L0.12,0.12M-0.12,0.12L0.12,-0.12M1.43,0' : datum.value === 'phiblast' ? 'M-1,0L1,0M0,-0.15L0,0.15M-0.11,-0.11L0.11,0.11M-0.11,0.11L0.11,-0.11M1.43,0' : datum.value === 'chase' ? 'M-1,0L1,0M0.15,0A0.15,0.15,0,1,1,-0.15,0A0.15,0.15,0,1,1,0.15,0M1.43,0' : 'M-1,0L1,0M-0.13,-0.13L0.13,-0.13L0.13,0.13L-0.13,0.13ZM1.43,0'"},
       "fill": {"signal": "datum.value === 'hmmsearch' ? '#5ceed8' : 'transparent'"},
       "strokeDash": {"signal": "datum.value === 'phiblast' ? [2,2] : datum.value === 'hmmsearch' ? [4,3] : datum.value === 'chase' ? [5,2,1,2] : [1,0]"}}},
     "labels": {"update": {"x": {"value": 126}, "y": {"value": 7}, "align": {"value": "right"}, "baseline": {"value": "middle"},
       "fill": {"signal": "datum.value === 'treesearch' ? '#f52020' : datum.value === 'psiblast' ? '#5ce01e' : datum.value === 'phiblast' ? '#2f4ff0' : datum.value === 'mast' ? '#c453f0' : datum.value === 'hmmsearch' ? '#5ceed8' : '#a0281c'"}}}
    }}}
 },
 "layer": [
  {"mark": {"type": "line", "strokeWidth": 1, "clip": true}, "encoding": {"strokeDash": {"field": "s", "type": "nominal", "scale": {"domain": ["treesearch", "psiblast", "phiblast", "mast", "hmmsearch", "chase"], "range": [[1, 0], [1, 0], [2, 2], [1, 0], [4, 3], [5, 2, 1, 2]]}, "legend": null}}},
  {"mark": {"type": "point", "filled": false, "size": 30, "strokeWidth": 1, "opacity": 1, "clip": true}, "encoding": {
    "shape": {"field": "s", "type": "nominal", "scale": {"domain": ["treesearch", "psiblast", "phiblast", "mast", "hmmsearch", "chase"], "range": ["M-1,0L1,0M0,-1L0,1", "M-0.8,-0.8L0.8,0.8M-0.8,0.8L0.8,-0.8", "M-1,0L1,0M0,-1L0,1M-0.7,-0.7L0.7,0.7M-0.7,0.7L0.7,-0.7", "square", "square", "circle"]}, "legend": null},
    "fill": {"field": "s", "type": "nominal", "scale": {"domain": ["treesearch", "psiblast", "phiblast", "mast", "hmmsearch", "chase"], "range": ["transparent", "transparent", "transparent", "transparent", "#5ceed8", "transparent"]}, "legend": null}}}
 ]
}
]
}
